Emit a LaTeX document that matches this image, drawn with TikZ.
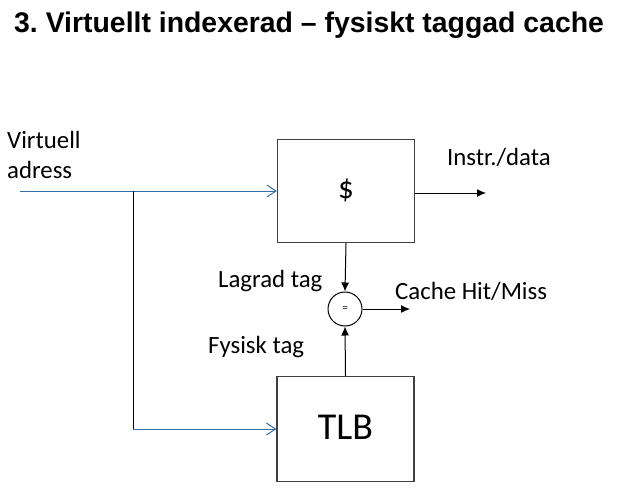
\documentclass[tikz,border=0pt]{standalone}
\usepackage{fontspec}
\setmainfont{Carlito}
\newfontfamily\titlefont{Liberation Sans}
\usetikzlibrary{arrows.meta}
\definecolor{lineblue}{RGB}{50,110,170}
\frenchspacing
\tikzset{%
  >={Latex[width=8pt,length=9pt]},
  % Specifications for style of nodes:
          base/.style = {rectangle, draw=black!75, line width=1.4pt,
                         fill=white, inner sep=0pt},
       unitbox/.style = {base, minimum width=137pt, minimum height=103pt},
       cmpnode/.style = {circle, draw=black, line width=1pt, minimum size=34pt,
                         inner sep=0pt, font=\fontsize{11}{13}\selectfont},
       textlbl/.style = {font=\fontsize{24.8}{30}\selectfont, inner sep=0pt,
                         anchor=base west},
     bluearrow/.style = {draw=lineblue, line width=1pt,
                         -{Straight Barb[length=9pt,width=12pt]}},
}

\begin{document}
\begin{tikzpicture}[x=1pt, y=-1pt]
  \useasboundingbox (0,0) rectangle (626,495);
  % Title
  \node (title) [anchor=base west, inner sep=0pt,
    font=\titlefont\bfseries\fontsize{28.4}{34}\selectfont] at (14,33)
    {3. Virtuellt indexerad \textendash{} fysiskt taggad cache};

  % Specification of nodes (position, etc.)
  \node (cache)   [unitbox, minimum height=103pt,
                   font=\fontsize{31}{36}\selectfont] at (346,191)
                  {\raisebox{5pt}{\$}};
  \node (tlb)     [unitbox, minimum height=105pt,
                   font=\fontsize{38}{44}\selectfont] at (345.5,429)
                  {\raisebox{3pt}{TLB}};
  \node (cmp)     [cmpnode] at (345,309) {=};

  \node (vaddr)   [textlbl] at (7,148) {Virtuell};
  \node (vaddr2)  [textlbl] at (7,178) {adress};
  \node (instr)   [textlbl] at (447,165) {Instr./data};
  \node (stored)  [textlbl] at (218,287) {Lagrad tag};
  \node (hitmiss) [textlbl] at (395,299) {Cache Hit/Miss};
  \node (phys)    [textlbl] at (208,353) {Fysisk tag};

  \coordinate (in)      at (20,191);
  \coordinate (split)   at (133,191);
  \coordinate (bend)    at (133,429);
  \coordinate (dataout) at (486,193);
  \coordinate (hitout)  at (410,309);

  % Connectors
  \draw[bluearrow]             (in) -- (cache.west);
  \draw[black, line width=1pt] (split) -- (bend);
  \draw[bluearrow]             (bend) -- (tlb.west);
  \draw[->, line width=1pt]    (cache.east |- dataout) -- (dataout);
  \draw[->, line width=1pt]    (cache.south) -- (cmp.north);
  \draw[->, line width=1pt]    (tlb.north) -- (cmp.south);
  \draw[->, line width=1pt]    (cmp.east) -- (hitout);

\end{tikzpicture}
\end{document}
